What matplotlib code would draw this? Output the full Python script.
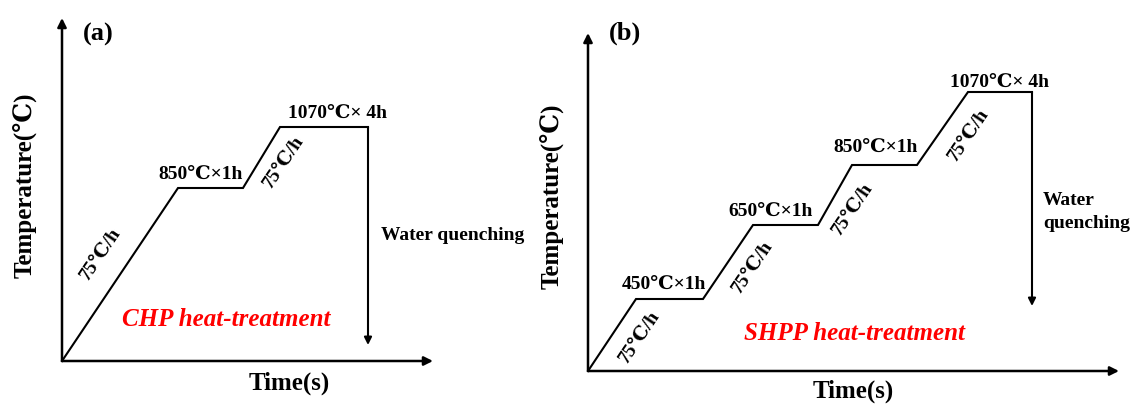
import matplotlib
matplotlib.use("Agg")
import matplotlib.pyplot as plt

W, H = 1132, 405
SERIF = ["Liberation Serif", "DejaVu Serif"]
plt.rcParams["font.family"] = SERIF
plt.rcParams["font.weight"] = "bold"

# panel (a): CHP schedule, schematic units
a_time = [0, 116, 181, 218, 306]
a_temp = [0, 173, 173, 234, 234]
a_quench_end = 16
a_holds = ["850℃×1h", "1070℃× 4h"]

# panel (b): SHPP schedule
b_time = [0, 48, 115, 165, 230, 264, 329, 380, 444]
b_temp = [0, 72, 72, 146, 146, 206, 206, 279, 279]
b_quench_end = 65
b_holds = ["450℃×1h", "650℃×1h", "850℃×1h", "1070℃× 4h"]

rate = "75℃/h"


def px_axes(fig, left, bottom, right, top):
    # axes whose data units are pixels, origin at the axis corner
    ax = fig.add_axes([left / W, (H - bottom) / H, (right - left) / W, (bottom - top) / H])
    ax.set_xlim(0, right - left)
    ax.set_ylim(0, bottom - top)
    ax.axis("off")
    arrow = dict(arrowstyle="-|>", lw=1.8, color="black", mutation_scale=13,
                 shrinkA=0, shrinkB=0)
    ax.annotate("", xy=(1, 0), xytext=(0, 0), xycoords="axes fraction", arrowprops=arrow)
    ax.annotate("", xy=(0, 1), xytext=(0, 0), xycoords="axes fraction", arrowprops=arrow)
    return ax


def schedule(ax, t, T, quench_end):
    ax.plot(t, T, color="black", lw=1.5, clip_on=False, solid_joinstyle="miter")
    ax.annotate("", xy=(t[-1], quench_end), xytext=(t[-1], T[-1]),
                arrowprops=dict(arrowstyle="-|>", lw=1.5, color="black",
                                mutation_scale=11, shrinkA=0, shrinkB=0))


fig = plt.figure(figsize=(W / 100, H / 100), dpi=100)

# ---- (a)
ax = px_axes(fig, 62, 361, 433, 18)
schedule(ax, a_time, a_temp, a_quench_end)
ax.text(36, 327, "(a)", fontsize=19, ha="center", va="center")
ax.text(139, 187, a_holds[0], fontsize=14, ha="center", va="center")
ax.text(276, 248, a_holds[1], fontsize=14, ha="center", va="center")
for x, y in [(39, 107), (222, 199)]:
    ax.text(x, y, rate, fontsize=14, rotation=56, ha="center", va="center",
            rotation_mode="anchor")
ax.text(391, 125, "Water quenching", fontsize=14, ha="center", va="center", clip_on=False)
ax.text(164, 42, "CHP heat-treatment", fontsize=18, color="red", style="italic",
        ha="center", va="center")
fig.text(25 / W, 1 - 185 / H, "Temperature(℃)", fontsize=18, rotation=90,
         ha="center", va="center")
fig.text(289 / W, 1 - 383 / H, "Time(s)", fontsize=18, ha="center", va="center")

# ---- (b)
ax = px_axes(fig, 588, 371, 1119, 33)
schedule(ax, b_time, b_temp, b_quench_end)
ax.text(37, 338, "(b)", fontsize=19, ha="center", va="center", clip_on=False)
for (x, y), s in zip([(76, 87), (183, 160), (288, 224), (412, 289)], b_holds):
    ax.text(x, y, s, fontsize=14, ha="center", va="center", clip_on=False)
for x, y in [(52, 34), (165, 104), (265, 162), (381, 236)]:
    ax.text(x, y, rate, fontsize=14, rotation=56, ha="center", va="center",
            rotation_mode="anchor")
ax.text(455, 159, "Water\nquenching", fontsize=14, ha="left", va="center",
        linespacing=1.45, clip_on=False)
ax.text(267, 38, "SHPP heat-treatment", fontsize=18, color="red", style="italic",
        ha="center", va="center")
fig.text(552 / W, 1 - 196 / H, "Temperature(℃)", fontsize=18, rotation=90,
         ha="center", va="center")
fig.text(853 / W, 1 - 391 / H, "Time(s)", fontsize=18, ha="center", va="center")

fig.savefig("out.png", dpi=100)
